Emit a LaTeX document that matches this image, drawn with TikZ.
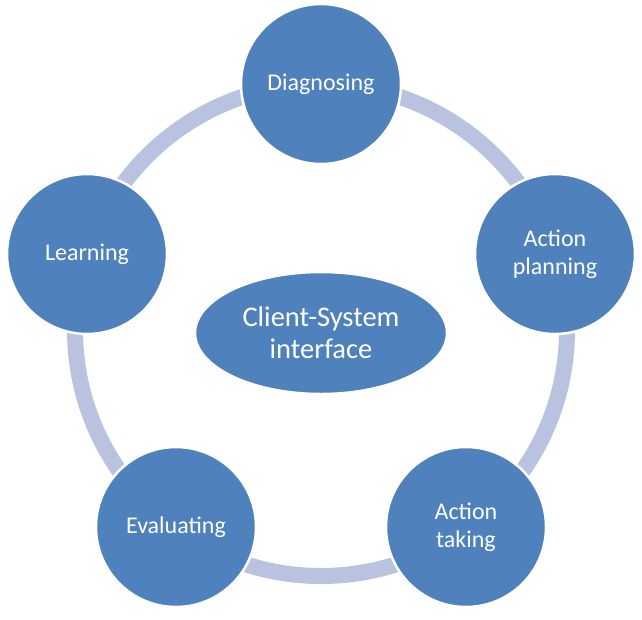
\documentclass[tikz,border=0pt]{standalone}
\usepackage{fontspec}
\setmainfont{Carlito}
\usetikzlibrary{shapes.geometric}
\definecolor{stepblue}{RGB}{79,129,189}
\definecolor{ringblue}{RGB}{185,195,224}

\begin{document}
\begin{tikzpicture}[
    x=1pt, y=-1pt,
    stage/.style={circle, draw=white, line width=2.5pt, fill=stepblue,
                  minimum size=160pt, inner sep=0pt, align=center,
                  text=white, font=\fontsize{24}{28}\selectfont},
    hub/.style={ellipse, draw=white, line width=2.5pt, fill=stepblue,
                minimum width=252pt, minimum height=122pt, inner sep=0pt,
                align=center, text=white, font=\fontsize{28.5}{32}\selectfont},
    ring/.style={draw=ringblue, line width=16pt},
]
    \useasboundingbox (0,0) rectangle (642,619);

    % --- cycle ring behind the stages ---
    \coordinate (mid) at (321,330);
    \draw[ring] (mid) circle[radius=246pt];

    % --- stages on a regular pentagon ---
    \node[stage] (diag)  at (321, 84)  {Diagnosing};
    \node[stage] (plan)  at (555,254)  {Action\\planning};
    \node[stage] (take)  at (466,527)  {Action\\taking};
    \node[stage] (eval)  at (176,527)  {Evaluating};
    \node[stage] (learn) at ( 87,254)  {Learning};

    % --- centre ---
    \node[hub] (client) at (321,333) {Client-System\\interface};
\end{tikzpicture}
\end{document}
